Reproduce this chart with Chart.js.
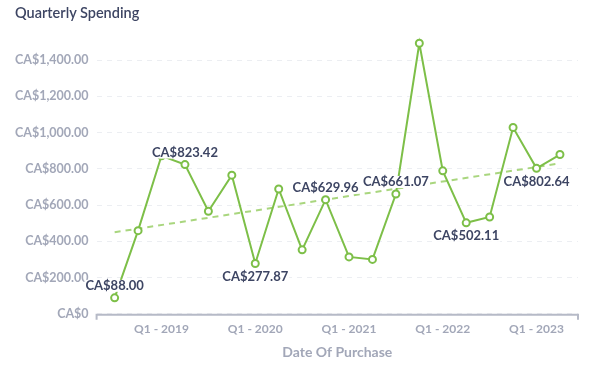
<!DOCTYPE html>
<html>
<head>
<meta charset="utf-8">
<script src="https://cdn.jsdelivr.net/npm/chart.js@4.4.0/dist/chart.umd.min.js"></script>
<style>
  html, body { margin: 0; padding: 0; background: #fff; }
  #wrap { position: relative; width: 605px; height: 367px; }
  #title {
    position: absolute; left: 15px; top: 4px;
    font-family: Lato, sans-serif; font-size: 14.5px; font-weight: 600; color: #3d4563;
  }
  canvas { display: block; }
</style>
</head>
<body>
<div id="wrap">
  <div id="title">Quarterly Spending</div>
  <canvas id="chart" width="605" height="367"></canvas>
</div>
<script>
// quarters Q3 2018 .. Q2 2023
const quarters = [
  'Q3 - 2018', 'Q4 - 2018',
  'Q1 - 2019', 'Q2 - 2019', 'Q3 - 2019', 'Q4 - 2019',
  'Q1 - 2020', 'Q2 - 2020', 'Q3 - 2020', 'Q4 - 2020',
  'Q1 - 2021', 'Q2 - 2021', 'Q3 - 2021', 'Q4 - 2021',
  'Q1 - 2022', 'Q2 - 2022', 'Q3 - 2022', 'Q4 - 2022',
  'Q1 - 2023', 'Q2 - 2023'
];
const spending = [
  88.00, 459, 872, 823.42, 566, 765, 277.87, 689, 353, 629.96,
  314, 300, 661.07, 1493, 789, 502.11, 534, 1028, 802.64, 879
];
// trend line ends (first and last quarter)
const trendEnds = [450, 830];
// which points carry a value label, and where
const labelIdx = [0, 3, 6, 9, 12, 15, 18];
const labelPos = ['above', 'above', 'below', 'above', 'above', 'below', 'below'];

const tickColor = '#a2a7b8';
const textDark = '#3d4563';

function money(v) {
  if (v === 0) return 'CA$0';
  return 'CA$' + v.toLocaleString('en-US', { minimumFractionDigits: 2, maximumFractionDigits: 2 });
}

const valueLabels = {
  id: 'valueLabels',
  afterDatasetsDraw(chart) {
    const ctx = chart.ctx;
    const meta = chart.getDatasetMeta(0);
    ctx.save();
    ctx.font = 'bold 13px Lato, sans-serif';
    ctx.textAlign = 'center';
    ctx.textBaseline = 'middle';
    labelIdx.forEach((i, k) => {
      const pt = meta.data[i];
      const txt = money(spending[i]);
      const y = labelPos[k] === 'above' ? pt.y - 12 : pt.y + 13;
      const w = ctx.measureText(txt).width;
      ctx.fillStyle = '#fff';
      ctx.fillRect(pt.x - w / 2 - 1, y - 6, w + 2, 12);
      ctx.fillStyle = textDark;
      ctx.fillText(txt, pt.x, y);
    });
    ctx.restore();
  }
};

const axisBracket = {
  id: 'axisBracket',
  afterDraw(chart) {
    const a = chart.chartArea;
    const ctx = chart.ctx;
    ctx.save();
    ctx.strokeStyle = '#b6bac7';
    ctx.lineWidth = 2;
    ctx.beginPath();
    ctx.moveTo(a.left, a.bottom + 6);
    ctx.lineTo(a.left, a.bottom + 1);
    ctx.lineTo(a.right, a.bottom + 1);
    ctx.lineTo(a.right, a.bottom + 6);
    ctx.stroke();
    ctx.restore();
  }
};

new Chart(document.getElementById('chart'), {
  type: 'line',
  data: {
    datasets: [{
      data: spending.map((v, i) => ({ x: i, y: v })),
      borderColor: '#7dbf48',
      borderWidth: 2,
      pointRadius: 3.5,
      pointBorderWidth: 2,
      pointBackgroundColor: '#fff',
      pointBorderColor: '#7dbf48',
      tension: 0,
      clip: false
    }, {
      data: [{ x: 0, y: trendEnds[0] }, { x: quarters.length - 1, y: trendEnds[1] }],
      borderColor: '#a9d67e',
      borderWidth: 2,
      borderDash: [6, 5],
      pointRadius: 0
    }]
  },
  options: {
    responsive: false,
    animation: false,
    layout: { padding: { left: 7, right: 27, top: 42, bottom: 6 } },
    plugins: { legend: { display: false }, tooltip: { enabled: false }, title: { display: false } },
    scales: {
      x: {
        type: 'linear',
        min: -0.77,
        max: quarters.length - 1 + 0.77,
        afterBuildTicks(axis) {
          axis.ticks = quarters
            .map((q, i) => ({ value: i, q }))
            .filter(t => t.q.startsWith('Q1'))
            .map(t => ({ value: t.value }));
        },
        ticks: {
          callback: v => quarters[v],
          color: tickColor,
          font: { family: 'Lato', size: 12, weight: 'bold' },
          padding: 0,
          maxRotation: 0
        },
        grid: { display: false },
        border: { display: false },
        title: {
          display: true,
          text: 'Date Of Purchase',
          color: tickColor,
          font: { family: 'Lato', size: 14, weight: 'bold' },
          padding: { top: 8, bottom: 0 }
        }
      },
      y: {
        min: 0,
        max: 1500,
        ticks: {
          stepSize: 200,
          includeBounds: false,
          callback: v => money(v),
          color: tickColor,
          font: { family: 'Lato', size: 12.5, weight: 'bold' },
          padding: 8
        },
        grid: { color: '#eceef2', drawTicks: false },
        border: { display: false, dash: [5, 5] }
      }
    }
  },
  plugins: [valueLabels, axisBracket]
});
</script>
</body>
</html>
